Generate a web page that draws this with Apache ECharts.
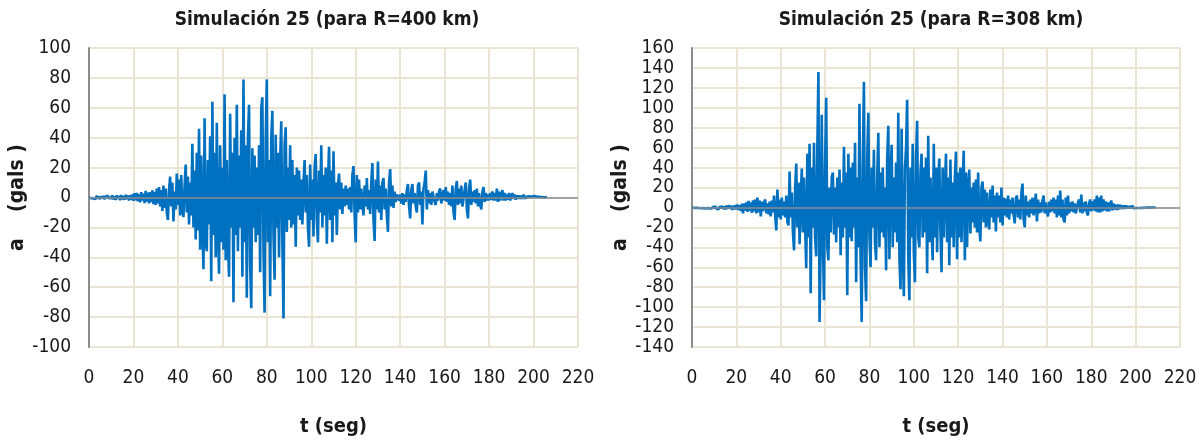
<!DOCTYPE html>
<html>
<head>
<meta charset="utf-8">
<script src="https://cdn.jsdelivr.net/npm/echarts@6/dist/echarts.min.js"></script>
<style>
  html, body { margin: 0; padding: 0; background: #fff; }
  #main { width: 1204px; height: 442px; }
</style>
</head>
<body>
<div id="main"></div>
<script>
// sample spacing of both records (seconds)
const timeStep = 0.5;

const titleLeft = "Simulación 25 (para R=400 km)";
const titleRight = "Simulación 25 (para R=308 km)";
const xName = "t (seg)";
const yName = "a    (gals )";

// acceleration, R = 400 km (gals), one value every 0.5 s
const accelLeft = [
  0,0.5,-0.5,0.8,-0.6,0.4,-1,1.2,-0.8,0.6,-1.1,0.9,-0.5,1,-1.2,0.7,-0.6,1.1,-0.9,0.5,
  -1,1.5,-1.3,0.8,-1.6,1.4,-0.9,1.2,-1.8,1.6,-1.2,0.9,-1.5,1.8,-1,1.3,-2,1.5,-1.4,2,
  -2.2,2.8,-1.8,3,-2.5,2.2,-3.2,3.5,-2,2.6,-3.8,4.5,-2.8,3.2,-4,3.6,-3,4.8,-4.5,3.8,
  -5,6,-4,7,-6,5,-9,8,-7,6,-10,-15,5,14,-6,10,-16,4,-8,16,
  -5,12,-12,15,-9,-13,8,22,-10,14,-18,10,-12,36,-20,18,-28,30,-22,46,
  -35,28,-20,-48,53,-30,-36,25,-18,41,-56,64,-25,30,-40,50,-22,-51,35,-30,
  20,-35,69,-42,25,-30,-53,56,-20,30,-70,40,-25,62,-36,28,-20,45,-53,79,
  -30,35,-67,40,62,-45,-74,33,-20,28,-30,20,-25,35,-50,60,67,-35,-77,40,
  79,-30,25,-66,40,58,-25,-55,42,-20,30,-40,25,51,-30,-81,35,47,-23,20,
  -15,35,-20,25,-18,15,-33,20,-12,18,-15,12,-18,10,25,-10,15,-20,-33,22,
  -15,12,-26,20,29,-15,-30,18,-10,35,-20,15,-12,20,-31,10,34,-15,18,-30,
  31,-12,10,-25,8,16,-8,10,-11,6,-6,8,-5,6,-8,7,-10,15,21,-12,
  -30,15,-10,12,-8,6,-5,-12,8,-6,13,-8,5,-11,10,23,-15,-29,12,-8,
  24,-10,8,-15,10,13,-8,6,-12,-23,10,19,-6,8,-7,4,-3,2,3,-2,
  2,-4,3,-5,2,-3,5,9,-6,-14,5,9,-4,3,-6,-10,8,10,-5,4,
  -18,6,10,18,-8,5,-4,3,-5,4,5,-3,-5,3,-2,4,6,-4,-4,5,
  -2,7,-3,4,-5,3,-6,8,-10,-15,6,11,-5,6,-4,8,-6,-7,5,10,
  -8,-14,6,12,-5,4,-3,5,-4,6,-6,3,-5,-8,4,7,-3,3,-2,2,
  -2,3,-1.5,4,-2,3,-2,6,-3,4,-2,-2,5,-2,3,-2,2,-1.5,3,-2,
  -1.5,3,-1,2,-1.5,1.5,-1,1.5,-1,1.2,-0.8,2,-1,1,-0.6,0.8,-0.5,0.7,-0.5,0.6,
  -0.4,1,-0.3,0.5,-0.3,0.4,-0.2,0.3,-0.2,0.2,-0.1,0.1,0
];

// acceleration, R = 308 km (gals), one value every 0.5 s
const accelRight = [
  0,0.5,-0.5,0.7,-0.4,0.8,-0.6,0.5,-0.8,0.9,-0.5,0.7,-1,0.8,-0.6,1,-0.9,0.6,-1,1.2,
  -1,1.5,-1.2,0.8,-1.8,1.3,-1,1.6,-1.4,1.1,-2,1.8,-1.5,2.2,-1.2,2,-2.4,1.6,-1.8,2.5,
  -2,3,-2.5,2.2,-3.5,3.8,-6,4,-3,5,-4.5,6.5,-3.5,5,-5.5,7,-4,8,-6,10,
  -5,7,-9,6,-4,5,8,-6,4,-7,6,-9,7,-5,12,-8,-23,18,-10,8,
  -12,10,-8,6,-10,12,-15,-18,36,-10,15,-25,-43,20,44,-20,25,-37,10,39,
  -25,30,-20,-61,54,-30,64,-86,40,-20,65,-30,-49,60,136,-115,-40,93,-30,-93,
  45,110,-40,-53,20,-25,30,35,-27,20,-35,30,-20,38,-48,25,-30,61,-20,35,
  -88,54,-30,40,-34,45,-20,65,-75,30,-40,104,-50,-115,40,126,-60,-94,50,95,
  -30,-60,40,-20,58,-35,-53,30,75,-40,35,-25,40,-30,20,-63,50,82,-52,30,
  63,-40,30,-25,45,-35,95,-50,-82,79,-40,-89,40,60,108,-50,-93,40,-30,64,
  -45,-75,50,87,-30,-40,35,54,-30,40,-25,50,-66,72,-35,30,-20,-53,64,-30,
  40,-45,30,49,-25,-65,40,-30,20,54,-35,30,-58,48,-30,25,-40,30,56,-52,
  35,-30,40,-35,25,57,-53,35,-40,20,38,-26,20,-15,25,-20,28,-25,35,-20,
  -34,20,26,-15,18,-20,15,-12,-22,18,-10,22,-15,12,-24,15,-10,12,-15,20,
  -18,10,-8,9,-10,12,-12,8,-6,10,-8,-16,9,12,-10,8,-12,15,24,-12,
  -20,12,-8,6,-10,8,-6,10,-8,-10,14,-14,8,-6,5,-5,7,12,-6,5,
  -4,-9,6,-5,8,-4,10,-6,8,-10,12,-8,17,-10,8,-12,-15,10,-8,12,
  -6,5,-4,6,-5,4,-6,-8,5,8,-5,13,-6,5,-4,6,-5,-8,4,8,
  -4,6,-3,8,-4,12,-5,10,-5,12,-4,8,-3,6,-4,5,-4,3,7,-3,
  4,-2,3,-2.5,3,-2,2.5,3,-1.5,2,-1.5,2,-1,1.5,-1,1.5,-1,2,-0.8,1,
  -0.6,1,-0.6,0.8,-0.5,0.7,-0.4,1,-0.3,0.5,-0.2,0.3,-0.2,0.2,-0.1,0.1,0,0.1,0
];

const font = "'Liberation Sans Narrow', 'DejaVu Sans Condensed', Arial, sans-serif";
const gridColor = "#e9e4d4";
const traceColor = "#0070c0";

function toPairs(arr) {
  return arr.map((a, i) => [i * timeStep, a]);
}

function xAxisFor(idx) {
  return {
    gridIndex: idx,
    type: "value",
    min: 0, max: 220, interval: 20,
    axisLine: { show: false },
    axisTick: { show: false },
    axisLabel: { color: "#1a1a1a", fontSize: 19, fontFamily: font, margin: 22 },
    splitLine: { show: true, lineStyle: { color: gridColor, width: 2 } },
    name: xName,
    nameLocation: "middle",
    nameGap: 70,
    nameTextStyle: { color: "#1a1a1a", fontSize: 20, fontWeight: "bold", fontFamily: font }
  };
}

function yAxisFor(idx, min, max) {
  return {
    gridIndex: idx,
    type: "value",
    min: min, max: max, interval: 20,
    axisLine: { show: true, onZero: false, lineStyle: { color: "#8c8c8c", width: 2 } },
    axisTick: { show: false },
    axisLabel: { color: "#1a1a1a", fontSize: 19, fontFamily: font, margin: 18 },
    splitLine: { show: true, lineStyle: { color: gridColor, width: 2 } },
    name: yName,
    nameLocation: "middle",
    nameGap: 56,
    nameTextStyle: { color: "#1a1a1a", fontSize: 21, fontWeight: "bold", fontFamily: font }
  };
}

function traceSeries(idx, data) {
  return {
    type: "line",
    xAxisIndex: idx,
    yAxisIndex: idx,
    data: data,
    showSymbol: false,
    animation: false,
    lineStyle: { color: traceColor, width: 2.6 },
    markLine: {
      silent: true,
      symbol: "none",
      label: { show: false },
      lineStyle: { color: "#8c8c8c", width: 1.5, type: "solid" },
      data: [{ yAxis: 0 }]
    }
  };
}

const chart = echarts.init(document.getElementById("main"), null, { renderer: "canvas" });
chart.setOption({
  backgroundColor: "#ffffff",
  animation: false,
  grid: [
    { left: 89, top: 48, width: 489, height: 307 },
    { left: 692, top: 48, width: 488, height: 307 }
  ],
  xAxis: [xAxisFor(0), xAxisFor(1)],
  yAxis: [yAxisFor(0, -100, 100), yAxisFor(1, -140, 160)],
  series: [traceSeries(0, toPairs(accelLeft)), traceSeries(1, toPairs(accelRight))],
  graphic: [
    { type: "text", x: 327, y: 20, style: { text: titleLeft, align: "center", verticalAlign: "middle", font: "bold 19px " + font, fill: "#1a1a1a" } },
    { type: "text", x: 931, y: 20, style: { text: titleRight, align: "center", verticalAlign: "middle", font: "bold 19px " + font, fill: "#1a1a1a" } }
  ]
});
</script>
</body>
</html>
